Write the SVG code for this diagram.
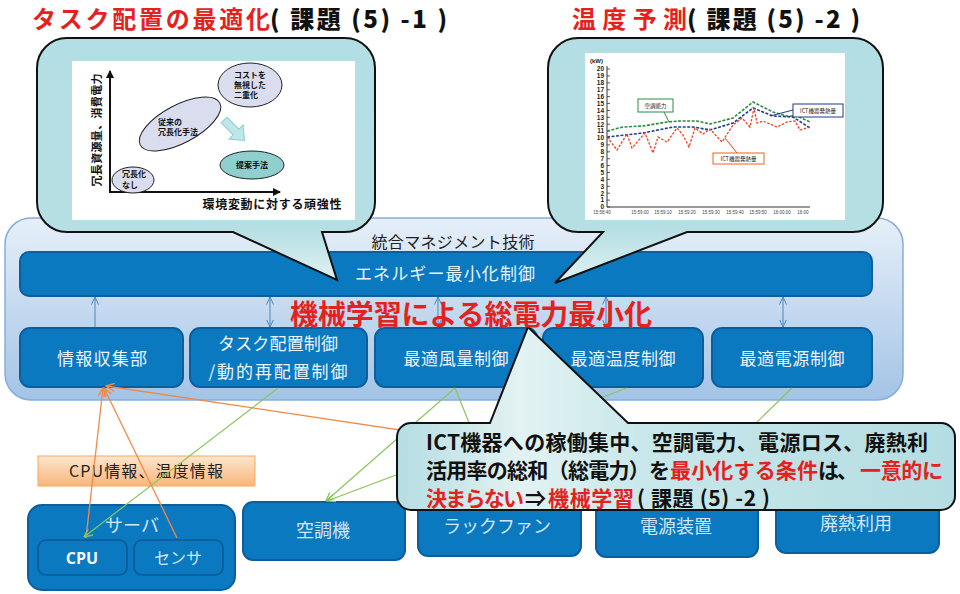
<svg xmlns="http://www.w3.org/2000/svg" width="960" height="594" viewBox="0 0 960 594">
<defs>
<linearGradient id="gCont" x1="0" y1="0" x2="0" y2="1"><stop offset="0" stop-color="#e6eff9"/><stop offset="1" stop-color="#a3c4e6"/></linearGradient>
<linearGradient id="gBub" gradientUnits="userSpaceOnUse" x1="0" y1="38" x2="0" y2="283"><stop offset="0" stop-color="#b3dee3"/><stop offset="0.78" stop-color="#b6dfe4"/><stop offset="1" stop-color="#e2f2f2"/></linearGradient>
<linearGradient id="gCall" x1="0" y1="0" x2="1" y2="0"><stop offset="0" stop-color="#b4dde2"/><stop offset="0.22" stop-color="#e3f2f2"/><stop offset="0.45" stop-color="#c8e7ea"/><stop offset="1" stop-color="#b4dde2"/></linearGradient>
<linearGradient id="gLab" x1="0" y1="0" x2="0" y2="1"><stop offset="0" stop-color="#fde6cf"/><stop offset="1" stop-color="#f8b67a"/></linearGradient>
<marker id="mB" viewBox="0 0 8 8" refX="7.5" refY="4" markerWidth="8" markerHeight="8" orient="auto-start-reverse" markerUnits="userSpaceOnUse"><path d="M0,0.5 L7.5,4 L0,7.5" fill="none" stroke="#4a86c0" stroke-width="1"/></marker>
<marker id="mO" viewBox="0 0 8 8" refX="7.5" refY="4" markerWidth="9" markerHeight="9" orient="auto" markerUnits="userSpaceOnUse"><path d="M0,0.5 L7.5,4 L0,7.5" fill="none" stroke="#f08a48" stroke-width="1.2"/></marker>
<marker id="mG" viewBox="0 0 8 8" refX="7.5" refY="4" markerWidth="9" markerHeight="9" orient="auto" markerUnits="userSpaceOnUse"><path d="M0,0.5 L7.5,4 L0,7.5" fill="none" stroke="#8cc45c" stroke-width="1.2"/></marker>
<marker id="mK" viewBox="0 0 8 8" refX="7" refY="4" markerWidth="8" markerHeight="8" orient="auto" markerUnits="userSpaceOnUse"><path d="M0,0 L8,4 L0,8 Z" fill="#111"/></marker>
</defs>
<style>
.jp{font-family:"Noto Sans CJK JP","Noto Sans",sans-serif}
.box{fill:#0b79bf;stroke:#0c5f9f;stroke-width:2}
.wt{fill:#eef4fb;font-size:17px;text-anchor:middle}
.lt{fill:#d4e6f6;font-size:18px;text-anchor:middle}
.red{fill:#e3221e}
.blk{fill:#111}
.bub{fill:url(#gBub);stroke:#111;stroke-width:2}
.ar{stroke:#4a86c0;stroke-width:1;fill:none}
.og{stroke:#f08a48;stroke-width:1.3;fill:none}
.gr{stroke:#8cc45c;stroke-width:1.2;fill:none}
.ell{fill:#d9ddee;stroke:#222;stroke-width:1}
.ct{font-size:8px;font-weight:bold;fill:#111}
.tk{font-size:6.5px;font-weight:bold;fill:#222;text-anchor:end;font-family:"Liberation Sans",sans-serif}
.xl{font-size:4.5px;fill:#444;text-anchor:middle;font-family:"Liberation Sans",sans-serif}
.cl{font-size:21px;font-weight:bold}
.tt{font-size:24px;font-weight:bold}
.tb{font-size:24px;font-weight:900}
</style>

<g id="container">
<rect x="5" y="218" width="898" height="182" rx="26" fill="url(#gCont)" stroke="#86aed8" stroke-width="1.5"/>
<text class="jp" x="453" y="248" font-size="16" fill="#222" text-anchor="middle" textLength="163">統合マネジメント技術</text>
</g>

<g id="energy">
<rect class="box" x="20" y="252" width="852" height="44" rx="9"/>
<text class="jp wt" x="445" y="280" textLength="180">エネルギー最小化制御</text>
</g>

<g id="info"><rect class="box" x="20" y="328" width="163" height="59" rx="10"/><text class="jp wt" x="102" y="365" textLength="90">情報収集部</text></g>
<g id="task"><rect class="box" x="190" y="328" width="177" height="59" rx="10"/><text class="jp wt" x="278" y="350" textLength="120">タスク配置制御</text><text class="jp wt" x="278" y="378" textLength="139">/動的再配置制御</text></g>
<g id="air"><rect class="box" x="375" y="328" width="162" height="59" rx="10"/><text class="jp wt" x="456" y="365" textLength="105">最適風量制御</text></g>
<g id="temp"><rect class="box" x="543" y="328" width="160" height="59" rx="10"/><text class="jp wt" x="623" y="365" textLength="105">最適温度制御</text></g>
<g id="power"><rect class="box" x="712" y="328" width="160" height="59" rx="10"/><text class="jp wt" x="792" y="365" textLength="105">最適電源制御</text></g>

<g id="inner-arrows">
<line class="ar" x1="95" y1="327" x2="95" y2="297" marker-end="url(#mB)"/>
<line class="ar" x1="270" y1="327" x2="270" y2="297" marker-start="url(#mB)" marker-end="url(#mB)"/>
<line class="ar" x1="438" y1="327" x2="438" y2="297" marker-start="url(#mB)" marker-end="url(#mB)"/>
<line class="ar" x1="606" y1="327" x2="606" y2="297" marker-start="url(#mB)" marker-end="url(#mB)"/>
<line class="ar" x1="783" y1="327" x2="783" y2="297" marker-start="url(#mB)" marker-end="url(#mB)"/>
</g>

<g id="server">
<rect class="box" x="28" y="505" width="207" height="85" rx="14"/>
<text class="jp lt" x="132" y="532" fill="#b9d3ee">サーバ</text>
</g>
<g id="cpu"><rect class="box" x="38" y="540" width="89" height="35" rx="8"/><text x="82" y="564" font-family="'Open Sans','Noto Sans',sans-serif" font-size="16" font-weight="bold" fill="#f4f8fc" text-anchor="middle">CPU</text></g>
<g id="sensor"><rect class="box" x="134" y="540" width="89" height="35" rx="8"/><text class="jp" x="178" y="564" font-size="16" fill="#d4e6f6" text-anchor="middle">センサ</text></g>
<g id="aircon"><rect class="box" x="243" y="502" width="162" height="58" rx="10"/><text class="jp lt" x="323" y="537">空調機</text></g>
<g id="rackfan"><rect class="box" x="418" y="499" width="163" height="57" rx="10"/><text class="jp lt" x="497" y="533">ラックファン</text></g>
<g id="psu"><rect class="box" x="596" y="499" width="162" height="58" rx="10"/><text class="jp lt" x="676" y="533">電源装置</text></g>
<g id="heat"><rect class="box" x="776" y="499" width="163" height="54" rx="10"/><text class="jp lt" x="856" y="530">廃熱利用</text></g>

<g id="info-label">
<rect x="38" y="456" width="217" height="30" fill="url(#gLab)" stroke="#f6a85e" stroke-width="1"/>
<text class="jp" x="146" y="477" font-size="16" fill="#222" text-anchor="middle" textLength="154">CPU情報、温度情報</text>
</g>

<g id="connectors">
<line class="og" x1="86" y1="538" x2="103" y2="388" marker-end="url(#mO)"/>
<line class="og" x1="177" y1="538" x2="104" y2="388" marker-end="url(#mO)"/>
<line class="og" x1="560" y1="454" x2="106" y2="386" marker-end="url(#mO)"/>
<line class="gr" x1="278" y1="388" x2="84" y2="537" marker-end="url(#mG)"/>
<line class="gr" x1="455" y1="388" x2="326" y2="501" marker-end="url(#mG)"/>
<line class="gr" x1="627" y1="388" x2="327" y2="501" marker-end="url(#mG)"/>
<line class="gr" x1="455" y1="388" x2="500" y2="499"/>
<line class="gr" x1="792" y1="388" x2="678" y2="499"/>
</g>

<g id="bubble-left">
<path class="bub" d="M67 38 H345 A30 30 0 0 1 375 68 V202 A30 30 0 0 1 345 232 H322 L337 280 L233 232 H67 A30 30 0 0 1 37 202 V68 A30 30 0 0 1 67 38 Z"/>
<rect x="72" y="61" width="283" height="159" fill="#fff"/>
<line x1="110" y1="192" x2="110" y2="71" stroke="#111" stroke-width="2" marker-end="url(#mK)"/>
<line x1="109" y1="192" x2="280" y2="192" stroke="#111" stroke-width="2" marker-end="url(#mK)"/>
<text class="jp" transform="translate(101 130) rotate(-90)" font-size="11" font-weight="bold" fill="#111" text-anchor="middle" textLength="113">冗長資源量、消費電力</text>
<text class="jp" x="272" y="209" font-size="12" font-weight="bold" fill="#111" text-anchor="middle" textLength="139">環境変動に対する頑強性</text>
<ellipse class="ell" cx="133" cy="180" rx="21" ry="13"/>
<text class="jp ct" x="122" y="177">冗長化</text><text class="jp ct" x="122" y="188">なし</text>
<ellipse class="ell" cx="180" cy="124" rx="45" ry="19" transform="rotate(-28 180 124)"/>
<text class="jp ct" x="158" y="125">従来の</text><text class="jp ct" x="158" y="135">冗長化手法</text>
<ellipse class="ell" cx="250" cy="85" rx="32" ry="22"/>
<text class="jp ct" x="234" y="78">コストを</text><text class="jp ct" x="234" y="88">無視した</text><text class="jp ct" x="234" y="98">二重化</text>
<polygon points="0,-4 17,-4 17,-10 29,0 17,10 17,4 0,4" transform="translate(224 120) rotate(45)" fill="#bfe6e8" stroke="#8ccfd4" stroke-width="1"/>
<ellipse cx="252" cy="165" rx="32" ry="14" fill="#8fd0cf" stroke="#222" stroke-width="1"/>
<text class="jp ct" x="252" y="168" text-anchor="middle">提案手法</text>
</g>

<g id="bubble-right">
<path class="bub" d="M578 38 H853 A30 30 0 0 1 883 68 V202 A30 30 0 0 1 853 232 H687 L555 283 L603 232 H578 A30 30 0 0 1 548 202 V68 A30 30 0 0 1 578 38 Z"/>
<rect x="585" y="53" width="260" height="167" fill="#fff"/>
<text x="590" y="63" font-family="'Liberation Sans',sans-serif" font-size="6" font-weight="bold" fill="#222">(kW)</text>
<path d="M607 66 V207 H810" fill="none" stroke="#333" stroke-width="1"/>
<path d="M607 207h3M607 200.1h3M607 193.2h3M607 186.3h3M607 179.4h3M607 172.5h3M607 165.6h3M607 158.7h3M607 151.8h3M607 144.9h3M607 138h3M607 131.1h3M607 124.2h3M607 117.3h3M607 110.4h3M607 103.5h3M607 96.6h3M607 89.7h3M607 82.8h3M607 75.9h3M607 69h3" stroke="#333" stroke-width="0.8"/>
<text class="tk" x="604" y="209.3">0</text><text class="tk" x="604" y="202.4">1</text><text class="tk" x="604" y="195.5">2</text><text class="tk" x="604" y="188.6">3</text><text class="tk" x="604" y="181.7">4</text><text class="tk" x="604" y="174.8">5</text><text class="tk" x="604" y="167.9">6</text><text class="tk" x="604" y="161">7</text><text class="tk" x="604" y="154.1">8</text><text class="tk" x="604" y="147.2">9</text><text class="tk" x="604" y="140.3">10</text><text class="tk" x="604" y="133.4">11</text><text class="tk" x="604" y="126.5">12</text><text class="tk" x="604" y="119.6">13</text><text class="tk" x="604" y="112.7">14</text><text class="tk" x="604" y="105.8">15</text><text class="tk" x="604" y="98.9">16</text><text class="tk" x="604" y="92">17</text><text class="tk" x="604" y="85.1">18</text><text class="tk" x="604" y="78.2">19</text><text class="tk" x="604" y="71.3">20</text>
<text class="xl" x="602" y="214">15:58:40</text><text class="xl" x="640" y="214">15:59:00</text><text class="xl" x="663" y="214">15:59:10</text><text class="xl" x="687" y="214">15:59:20</text><text class="xl" x="711" y="214">15:59:30</text><text class="xl" x="735" y="214">15:59:40</text><text class="xl" x="758" y="214">15:59:50</text><text class="xl" x="782" y="214">16:00:00</text><text class="xl" x="803" y="214">16:00</text>
<polyline points="607,131 623,127 643,126 667,122 680,121 697,121 710,124 733,118 753,102 773,112 787,116 797,116 810,122" fill="none" stroke="#2e8b3e" stroke-width="1.6" stroke-dasharray="3 1.5"/>
<polyline points="607,137 643,133 673,127 693,127 710,130 733,123 753,108 773,116 793,117 810,128" fill="none" stroke="#1f3b8c" stroke-width="1.6" stroke-dasharray="3 1.5"/>
<polyline points="607,137 617,150 627,134 632,148 645,133 653,153 658,137 667,142 677,128 683,135 689,147 695,128 703,134 710,129 722,142 733,125 742,118 750,127 754,108 757,123 763,121 777,127 787,122 795,121 800,130 810,127" fill="none" stroke="#f0401e" stroke-width="1.3" stroke-dasharray="2.5 1.5"/>
<line x1="664" y1="112" x2="669" y2="122" stroke="#2e8b3e" stroke-width="1"/>
<rect x="638" y="99" width="35" height="13" fill="#fff" stroke="#2e8b3e" stroke-width="1"/>
<text class="jp" x="655.5" y="108" font-size="5.5" fill="#222" text-anchor="middle">空調能力</text>
<line x1="793" y1="110" x2="770" y2="116" stroke="#1f3b8c" stroke-width="1"/>
<rect x="793" y="104" width="50" height="13" fill="#fff" stroke="#1f3b8c" stroke-width="1"/>
<text class="jp" x="818" y="113" font-size="5.5" fill="#222" text-anchor="middle">ICT機器発熱量</text>
<line x1="737" y1="153" x2="725" y2="138" stroke="#f0401e" stroke-width="1"/>
<rect x="713" y="153" width="51" height="11" fill="#fff" stroke="#f0601e" stroke-width="1"/>
<text class="jp" x="738.5" y="161" font-size="5.5" fill="#222" text-anchor="middle">ICT機器発熱量</text>
</g>

<g id="callout">
<path d="M411 423 H490 L528 327 L628 423 H941 A14 14 0 0 1 955 437 V496 A14 14 0 0 1 941 510 H411 A14 14 0 0 1 397 496 V437 A14 14 0 0 1 411 423 Z" fill="url(#gCall)" stroke="#111" stroke-width="2"/>
<text class="jp cl blk" x="426" y="450" textLength="502">ICT機器への稼働集中、空調電力、電源ロス、廃熱利</text>
<text class="jp cl blk" x="426" y="478" textLength="244">活用率の総和（総電力）を</text>
<text class="jp cl red" x="670" y="478" textLength="148">最小化する条件</text>
<text class="jp cl blk" x="818" y="478" textLength="40">は、</text>
<text class="jp cl red" x="860" y="478" textLength="83">一意的に</text>
<text class="jp cl red" x="426" y="506" textLength="98">決まらない</text>
<text class="jp cl blk" x="525" y="506" textLength="21">⇒</text>
<text class="jp cl red" x="548" y="506" textLength="86">機械学習</text>
<text class="jp cl blk" x="637" y="506" textLength="133">( 課題 (5) -2 )</text>
</g>

<g id="headline">
<text class="jp red" x="290" y="325" font-size="28" font-weight="bold" textLength="362">機械学習による総電力最小化</text>
</g>

<g id="title-left">
<text class="jp tt red" x="32" y="28" textLength="238">タスク配置の最適化</text>
<text class="jp tb blk" x="270" y="28" textLength="177">( 課題 (5) -1 )</text>
</g>
<g id="title-right">
<text class="jp tt red" x="572" y="28" textLength="115">温度予測</text>
<text class="jp tb blk" x="687" y="28" textLength="173">( 課題 (5) -2 )</text>
</g>
</svg>
